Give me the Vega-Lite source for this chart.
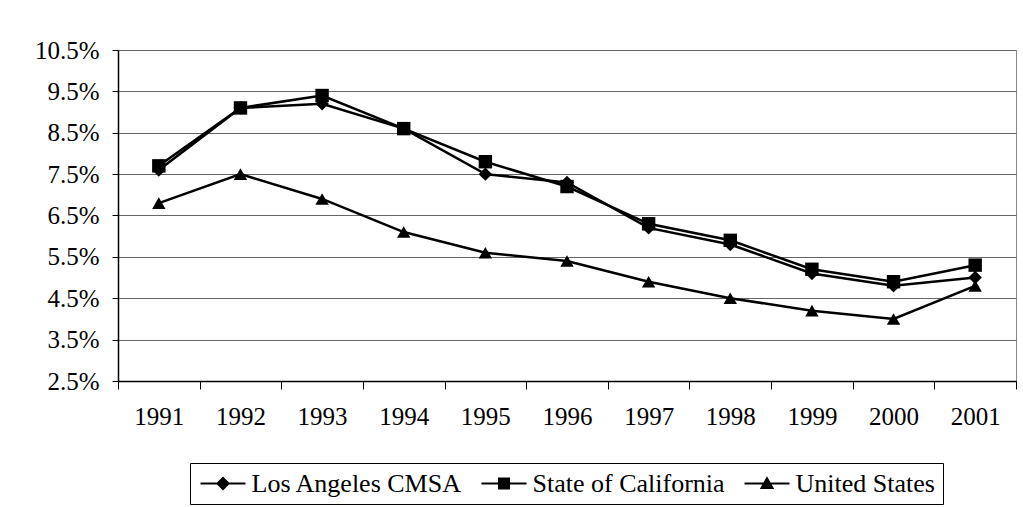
{
  "$schema": "https://vega.github.io/schema/vega-lite/v6.json",
  "width": 898,
  "height": 331,
  "autosize": "none",
  "padding": {"left": 118, "top": 50, "right": 7, "bottom": 126},
  "background": "white",
  "config": {
    "font": "'Liberation Serif', 'Times New Roman', 'DejaVu Serif', serif",
    "view": {"stroke": "#888888", "strokeWidth": 1},
    "text": {"font": "'Liberation Serif', 'Times New Roman', 'DejaVu Serif', serif"},
    "axis": {"labelFont": "'Liberation Serif', 'Times New Roman', 'DejaVu Serif', serif", "labelFontSize": 25, "labelColor": "black", "domainColor": "black", "tickColor": "black"},
    "legend": {"labelFont": "'Liberation Serif', 'Times New Roman', 'DejaVu Serif', serif"}
  },
  "data": {
    "values": [
      {"year": "1991", "series": "Los Angeles CMSA", "rate": 0.076},
      {"year": "1992", "series": "Los Angeles CMSA", "rate": 0.091},
      {"year": "1993", "series": "Los Angeles CMSA", "rate": 0.092},
      {"year": "1994", "series": "Los Angeles CMSA", "rate": 0.086},
      {"year": "1995", "series": "Los Angeles CMSA", "rate": 0.075},
      {"year": "1996", "series": "Los Angeles CMSA", "rate": 0.073},
      {"year": "1997", "series": "Los Angeles CMSA", "rate": 0.062},
      {"year": "1998", "series": "Los Angeles CMSA", "rate": 0.058},
      {"year": "1999", "series": "Los Angeles CMSA", "rate": 0.051},
      {"year": "2000", "series": "Los Angeles CMSA", "rate": 0.048},
      {"year": "2001", "series": "Los Angeles CMSA", "rate": 0.050},
      {"year": "1991", "series": "State of California", "rate": 0.077},
      {"year": "1992", "series": "State of California", "rate": 0.091},
      {"year": "1993", "series": "State of California", "rate": 0.094},
      {"year": "1994", "series": "State of California", "rate": 0.086},
      {"year": "1995", "series": "State of California", "rate": 0.078},
      {"year": "1996", "series": "State of California", "rate": 0.072},
      {"year": "1997", "series": "State of California", "rate": 0.063},
      {"year": "1998", "series": "State of California", "rate": 0.059},
      {"year": "1999", "series": "State of California", "rate": 0.052},
      {"year": "2000", "series": "State of California", "rate": 0.049},
      {"year": "2001", "series": "State of California", "rate": 0.053},
      {"year": "1991", "series": "United States", "rate": 0.068},
      {"year": "1992", "series": "United States", "rate": 0.075},
      {"year": "1993", "series": "United States", "rate": 0.069},
      {"year": "1994", "series": "United States", "rate": 0.061},
      {"year": "1995", "series": "United States", "rate": 0.056},
      {"year": "1996", "series": "United States", "rate": 0.054},
      {"year": "1997", "series": "United States", "rate": 0.049},
      {"year": "1998", "series": "United States", "rate": 0.045},
      {"year": "1999", "series": "United States", "rate": 0.042},
      {"year": "2000", "series": "United States", "rate": 0.040},
      {"year": "2001", "series": "United States", "rate": 0.048}
    ]
  },
  "encoding": {
    "x": {
      "field": "year", "type": "ordinal", "title": null,
      "scale": {"paddingInner": 0, "paddingOuter": 0},
      "axis": {"labelAngle": 0, "tickBand": "extent", "tickSize": 8, "labelPadding": 15, "grid": false, "domainWidth": 1.5}
    },
    "y": {
      "field": "rate", "type": "quantitative", "title": null,
      "scale": {"domain": [0.025, 0.105], "nice": false, "zero": false},
      "axis": {
        "values": [0.025, 0.035, 0.045, 0.055, 0.065, 0.075, 0.085, 0.095, 0.105],
        "format": ".1%", "tickSize": 6, "labelPadding": 13, "domainWidth": 1.5,
        "grid": true, "gridColor": "#666666", "gridWidth": 1
      }
    }
  },
  "resolve": {"scale": {"shape": "independent"}},
  "layer": [
    {
      "mark": {"type": "line", "color": "black", "strokeWidth": 2.5},
      "encoding": {"detail": {"field": "series"}}
    },
    {
      "mark": {"type": "point", "filled": true, "color": "black", "opacity": 1, "size": 180},
      "encoding": {
        "shape": {
          "field": "series", "type": "nominal",
          "scale": {"domain": ["Los Angeles CMSA", "State of California", "United States"], "range": ["diamond", "square", "triangle-up"]},
          "legend": null
        }
      }
    },
    {
      "mark": {"type": "point", "filled": true, "color": "black", "opacity": 0, "size": 400},
      "encoding": {
        "shape": {
          "field": "series", "type": "nominal",
          "scale": {
            "domain": ["Los Angeles CMSA", "State of California", "United States"],
            "range": [
              "M-1,-0.1H3.5V0.1H-1Z M1.25,-0.7L1.95,0L1.25,0.7L0.55,0Z",
              "M-1,-0.1H3.5V0.1H-1Z M0.65,-0.6H1.85V0.6H0.65Z",
              "M-1,-0.1H3.5V0.1H-1Z M1.25,-0.72L1.97,0.55L0.53,0.55Z"
            ]
          },
          "legend": {
            "title": null,
            "orient": "none",
            "legendX": 72,
            "legendY": 413,
            "direction": "horizontal",
            "columns": 3,
            "padding": 7.5,
            "strokeColor": "black",
            "fillColor": "white",
            "labelFont": "'Liberation Serif', 'Times New Roman', 'DejaVu Serif', serif",
            "labelFontSize": 26,
            "labelColor": "black",
            "labelOffset": 28,
            "columnPadding": 16,
            "symbolSize": 400,
            "symbolFillColor": "black",
            "symbolStrokeWidth": 0,
            "symbolOpacity": 1,
            "labelLimit": 400,
            "encode": {
              "legend": {"update": {"strokeWidth": {"value": 1}}},
              "symbols": {"update": {"opacity": {"value": 1}, "fill": {"value": "black"}}}
            }
          }
        }
      }
    }
  ]
}
